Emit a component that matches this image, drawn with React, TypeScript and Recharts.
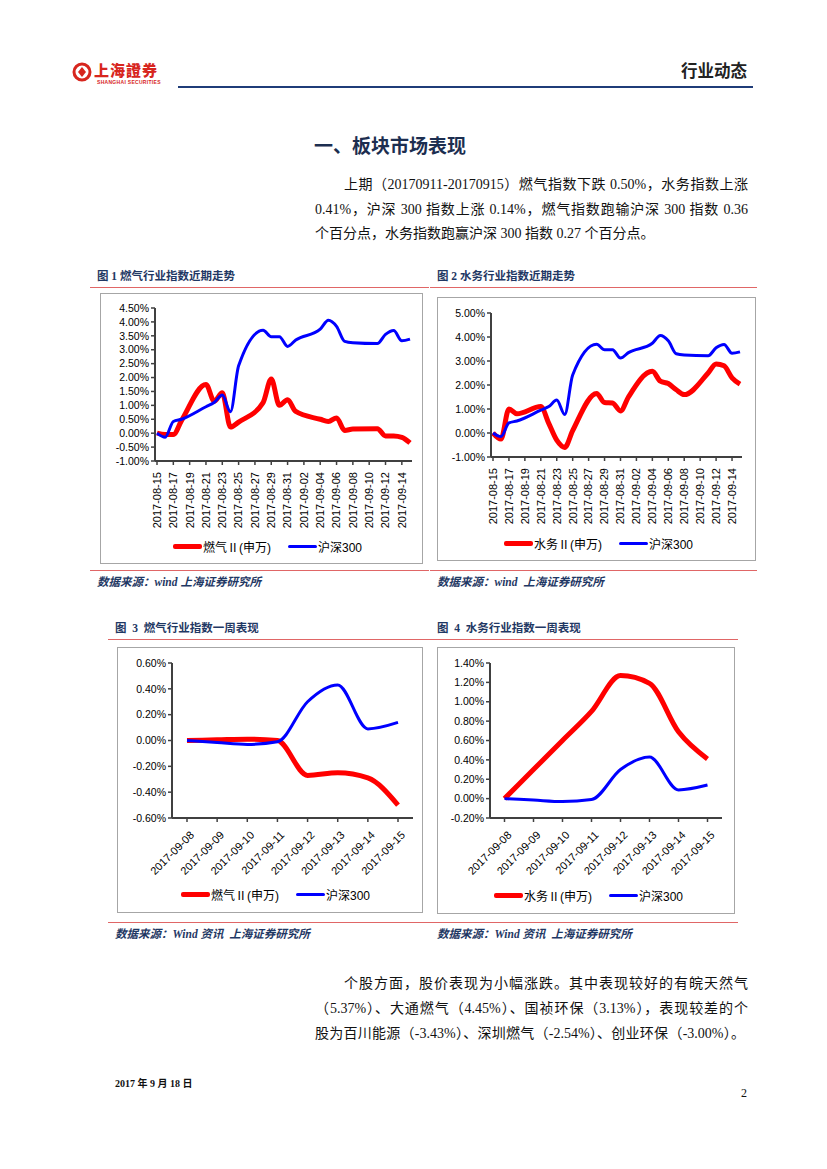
import React from "react"
import { LineChart, Line, XAxis, YAxis } from "recharts"

// calendar days on the date axis of figures 1 and 2 (weekends have no quote)
const trendDates = [
  "2017-08-15", "2017-08-16", "2017-08-17", "2017-08-18", "2017-08-19", "2017-08-20",
  "2017-08-21", "2017-08-22", "2017-08-23", "2017-08-24", "2017-08-25", "2017-08-26",
  "2017-08-27", "2017-08-28", "2017-08-29", "2017-08-30", "2017-08-31", "2017-09-01",
  "2017-09-02", "2017-09-03", "2017-09-04", "2017-09-05", "2017-09-06", "2017-09-07",
  "2017-09-08", "2017-09-09", "2017-09-10", "2017-09-11", "2017-09-12", "2017-09-13",
  "2017-09-14", "2017-09-15",
]

const gasTrend = [
  0.0, -0.05, -0.05, 0.45, null, null,
  1.75, 1.15, 1.45, 0.22, 0.4, null,
  null, 1.1, 1.95, 1.0, 1.2, 0.78,
  null, null, 0.5, 0.42, 0.55, 0.1,
  0.15, null, null, 0.16, -0.1, -0.1,
  -0.15, -0.35,
]

const waterTrend = [
  0.0, -0.25, 1.0, 0.8, null, null,
  1.1, 0.4, -0.3, -0.6, 0.1, null,
  null, 1.65, 1.27, 1.25, 0.92, 1.5,
  null, null, 2.57, 2.16, 2.06, 1.8,
  1.6, null, null, 2.5, 2.88, 2.8,
  2.3, 2.04,
]

const hs300Trend = [
  0.0, -0.15, 0.42, 0.5, null, null,
  0.95, 1.1, 1.37, 0.77, 2.42, null,
  null, 3.7, 3.47, 3.47, 3.12, 3.35,
  null, null, 3.74, 4.06, 3.84, 3.3,
  3.25, null, null, 3.22, 3.55, 3.69,
  3.32, 3.38,
]

const weekDates = [
  "2017-09-08", "2017-09-09", "2017-09-10", "2017-09-11",
  "2017-09-12", "2017-09-13", "2017-09-14", "2017-09-15",
]
const gasWeek = [0.0, 0.005, 0.01, 0.0, -0.27, -0.25, -0.29, -0.5]
const waterWeek = [0.0, 0.3, 0.6, 0.9, 1.27, 1.19, 0.69, 0.41]
const hs300Week = [0.0, -0.015, -0.03, -0.01, 0.3, 0.43, 0.09, 0.14]

const gasTrendTicks = [-1, -0.5, 0, 0.5, 1, 1.5, 2, 2.5, 3, 3.5, 4, 4.5]
const waterTrendTicks = [-1, 0, 1, 2, 3, 4, 5]
const gasWeekTicks = [-0.6, -0.4, -0.2, 0, 0.2, 0.4, 0.6]
const waterWeekTicks = [-0.2, 0, 0.2, 0.4, 0.6, 0.8, 1, 1.2, 1.4]

const RED = "#ff0000"
const BLUE = "#0000ff"
const AXIS = "#404040"
const NAVY = "#1f3864"
const RULE = "#e06666"
const SANS = "'Liberation Sans', Arial, 'Noto Sans CJK SC', sans-serif"
const SERIF = "'Liberation Serif', 'Times New Roman', 'Noto Sans CJK SC', serif"

const trendData = trendDates.map((d, i) => ({
  date: d,
  gas: gasTrend[i],
  water: waterTrend[i],
  hs300: hs300Trend[i],
}))
const weekData = weekDates.map((d, i) => ({
  date: d,
  gas: gasWeek[i],
  water: waterWeek[i],
  hs300: hs300Week[i],
}))

type Series = { key: string; name: string; color: string; width: number }

const gasSeries: Series[] = [
  { key: "gas", name: "燃气Ⅱ(申万)", color: RED, width: 5 },
  { key: "hs300", name: "沪深300", color: BLUE, width: 3 },
]
const waterSeries: Series[] = [
  { key: "water", name: "水务Ⅱ(申万)", color: RED, width: 5 },
  { key: "hs300", name: "沪深300", color: BLUE, width: 3 },
]

const pct = (v: number) => `${v.toFixed(2)}%`

function VerticalTick({ x, y, payload }: any) {
  return (
    <g transform={`translate(${x},${y + 5}) rotate(-90)`}>
      <text x={0} y={0} dy="0.35em" textAnchor="end" fontSize={11} fill="#000" fontFamily={SANS}>
        {payload.value}
      </text>
    </g>
  )
}

function SlantTick({ x, y, payload }: any) {
  return (
    <g transform={`translate(${x + 5},${y + 9}) rotate(-45)`}>
      <text x={0} y={0} dy="0.35em" textAnchor="end" fontSize={11} fill="#000" fontFamily={SANS}>
        {payload.value}
      </text>
    </g>
  )
}

function ChartBox(props: {
  left: number
  top: number
  width: number
  height: number
  data: any[]
  series: Series[]
  ticks: number[]
  plot: { left: number; right: number; top: number; bottom: number }
  pad: number
  slant?: boolean
  legendY: number
  legendX: number[]
}) {
  const { left, top, width, height, data, series, ticks, plot, pad, slant } = props
  return (
    <div style={{ position: "absolute", left, top, width, height, boxSizing: "border-box", border: "1px solid #a6a6a6" }}>
      <div style={{ position: "absolute", left: -1, top: -1 }}>
        <LineChart
          width={width}
          height={height}
          data={data}
          margin={{ top: plot.top, right: plot.right, bottom: 0, left: 0 }}
        >
          <XAxis
            dataKey="date"
            height={plot.bottom}
            interval={slant ? 0 : 1}
            padding={{ left: pad, right: pad }}
            tick={slant ? <SlantTick /> : <VerticalTick />}
            tickLine={{ stroke: AXIS, strokeWidth: 1.5 }}
            tickSize={4}
            axisLine={{ stroke: AXIS, strokeWidth: 2 }}
          />
          <YAxis
            width={plot.left}
            domain={[ticks[0], ticks[ticks.length - 1]]}
            ticks={ticks}
            tickFormatter={pct}
            interval={0}
            tick={{ fontSize: 10.5, fill: "#000", fontFamily: SANS }}
            tickLine={{ stroke: AXIS, strokeWidth: 1.5 }}
            tickSize={4}
            axisLine={{ stroke: AXIS, strokeWidth: 2 }}
          />
          {series.map((s) => (
            <Line
              key={s.key}
              dataKey={s.key}
              name={s.name}
              type="monotone"
              stroke={s.color}
              strokeWidth={s.width}
              dot={false}
              connectNulls
              isAnimationActive={false}
            />
          ))}
        </LineChart>
      </div>
      {series.map((s, i) => (
        <div
          key={s.key}
          style={{
            position: "absolute",
            left: props.legendX[i],
            top: props.legendY - 9,
            height: 18,
            display: "flex",
            alignItems: "center",
            fontFamily: SANS,
            fontSize: 12,
            color: "#000",
            whiteSpace: "nowrap",
          }}
        >
          <span style={{ display: "inline-block", width: 29, height: s.width, background: s.color, borderRadius: 2, marginRight: 1 }} />
          {s.name}
        </div>
      ))}
    </div>
  )
}

function Caption({ x, y, w, text }: { x: number; y: number; w: number; text: string }) {
  return (
    <>
      <div
        style={{
          position: "absolute",
          left: x + 7,
          top: y - 9,
          fontFamily: SERIF,
          fontWeight: 700,
          fontSize: 11.5,
          color: NAVY,
          whiteSpace: "pre",
          lineHeight: "16px",
        }}
      >
        {text}
      </div>
      <div style={{ position: "absolute", left: x, top: y + 10, width: w, height: 1, background: RULE }} />
    </>
  )
}

function Source({ x, y, w, text }: { x: number; y: number; w: number; text: string }) {
  return (
    <>
      <div style={{ position: "absolute", left: x, top: y, width: w, height: 1, background: RULE }} />
      <div
        style={{
          position: "absolute",
          left: x + 7,
          top: y + 4,
          fontFamily: SERIF,
          fontWeight: 700,
          fontStyle: "italic",
          fontSize: 11.5,
          color: NAVY,
          whiteSpace: "pre",
          lineHeight: "16px",
        }}
      >
        {text}
      </div>
    </>
  )
}

function TextLine({ top, left, width, text, justify }: any) {
  return (
    <div
      style={{
        position: "absolute",
        top,
        left,
        width,
        height: 25,
        lineHeight: "25px",
        fontFamily: SERIF,
        fontSize: 14,
        color: "#111",
        textAlign: justify ? "justify" : "left",
        textAlignLast: justify ? "justify" : "left",
        whiteSpace: "nowrap",
      }}
    >
      {text}
    </div>
  )
}

export default function App() {
  return (
    <div style={{ position: "absolute", left: 0, top: 0, width: 827, height: 1169, background: "#fff", overflow: "hidden" }}>
      {/* header */}
      <svg style={{ position: "absolute", left: 72, top: 62 }} width={20} height={20}>
        <circle cx={10} cy={10} r={8} fill="none" stroke="#d7261e" strokeWidth={3} />
        <path d="M6 10 L10 5 L14 10 L10 15 Z" fill="#d7261e" />
      </svg>
      <div
        style={{
          position: "absolute",
          left: 94,
          top: 61,
          fontFamily: "'Noto Sans CJK TC', sans-serif",
          fontWeight: 900,
          fontSize: 15,
          color: "#d7261e",
          letterSpacing: 1,
          lineHeight: "18px",
        }}
      >
        上海證券
      </div>
      <div
        style={{
          position: "absolute",
          left: 97,
          top: 79,
          fontFamily: SANS,
          fontWeight: 700,
          fontSize: 5,
          color: "#d7261e",
          lineHeight: "6px",
          letterSpacing: 0.3,
        }}
      >
        SHANGHAI SECURITIES
      </div>
      <div
        style={{
          position: "absolute",
          left: 681,
          top: 60,
          fontFamily: "'Noto Sans CJK SC', sans-serif",
          fontWeight: 700,
          fontSize: 16.5,
          color: "#222",
          lineHeight: "20px",
        }}
      >
        行业动态
      </div>
      <div style={{ position: "absolute", left: 178, top: 86, width: 575, height: 2, background: "#1f3c78" }} />

      {/* section title */}
      <div
        style={{
          position: "absolute",
          left: 314,
          top: 132,
          fontFamily: "'Noto Sans CJK SC', sans-serif",
          fontWeight: 700,
          fontSize: 19,
          color: "#1c2e50",
          lineHeight: "26px",
        }}
      >
        一、板块市场表现
      </div>

      <TextLine top={172} left={344} width={404} justify text="上期（20170911-20170915）燃气指数下跌 0.50%，水务指数上涨" />
      <TextLine top={197} left={315} width={433} justify text="0.41%，沪深 300 指数上涨 0.14%，燃气指数跑输沪深 300 指数 0.36" />
      <TextLine top={221} left={315} width={433} text="个百分点，水务指数跑赢沪深 300 指数 0.27 个百分点。" />

      {/* figure 1 */}
      <Caption x={90} y={277} w={339} text="图 1 燃气行业指数近期走势" />
      <ChartBox
        left={100}
        top={293}
        width={323}
        height={271}
        data={trendData}
        series={gasSeries}
        ticks={gasTrendTicks}
        plot={{ left: 55, right: 11, top: 15, bottom: 103 }}
        pad={2}
        legendY={252}
        legendX={[72, 187]}
      />
      <Source x={90} y={570} w={339} text="数据来源：wind 上海证券研究所" />

      {/* figure 2 */}
      <Caption x={430} y={277} w={327} text="图 2 水务行业指数近期走势" />
      <ChartBox
        left={437}
        top={297}
        width={319}
        height={264}
        data={trendData}
        series={waterSeries}
        ticks={waterTrendTicks}
        plot={{ left: 54, right: 14, top: 16, bottom: 104 }}
        pad={2}
        legendY={245}
        legendX={[66, 181]}
      />
      <Source x={430} y={570} w={327} text="数据来源：wind  上海证券研究所" />

      {/* figure 3 */}
      <Caption x={108} y={629} w={322} text="图  3  燃气行业指数一周表现" />
      <ChartBox
        left={117}
        top={647}
        width={306}
        height={266}
        data={weekData}
        series={gasSeries}
        ticks={gasWeekTicks}
        plot={{ left: 55, right: 10, top: 16, bottom: 95 }}
        pad={15}
        slant
        legendY={246}
        legendX={[63, 178]}
      />
      <Source x={108} y={922} w={322} text="数据来源：Wind 资讯  上海证券研究所" />

      {/* figure 4 */}
      <Caption x={430} y={629} w={308} text="图  4  水务行业指数一周表现" />
      <ChartBox
        left={437}
        top={647}
        width={298}
        height={267}
        data={weekData}
        series={waterSeries}
        ticks={waterWeekTicks}
        plot={{ left: 53, right: 13, top: 16, bottom: 96 }}
        pad={14.5}
        slant
        legendY={247}
        legendX={[56, 171]}
      />
      <Source x={430} y={922} w={308} text="数据来源：Wind 资讯  上海证券研究所" />

      {/* stock comments */}
      <TextLine top={971} left={344} width={404} justify text="个股方面，股价表现为小幅涨跌。其中表现较好的有皖天然气" />
      <TextLine top={996} left={315} width={433} justify text="（5.37%）、大通燃气（4.45%）、国祯环保（3.13%），表现较差的个" />
      <TextLine top={1021} left={315} width={430} justify text="股为百川能源（-3.43%）、深圳燃气（-2.54%）、创业环保（-3.00%）。" />

      {/* footer */}
      <div
        style={{
          position: "absolute",
          left: 115,
          top: 1077,
          fontFamily: SERIF,
          fontWeight: 700,
          fontSize: 10,
          color: "#111",
          lineHeight: "14px",
        }}
      >
        2017 年 9 月 18 日
      </div>
      <div
        style={{ position: "absolute", left: 741, top: 1085, fontFamily: SERIF, fontSize: 12, color: "#111", lineHeight: "16px" }}
      >
        2
      </div>
    </div>
  )
}
